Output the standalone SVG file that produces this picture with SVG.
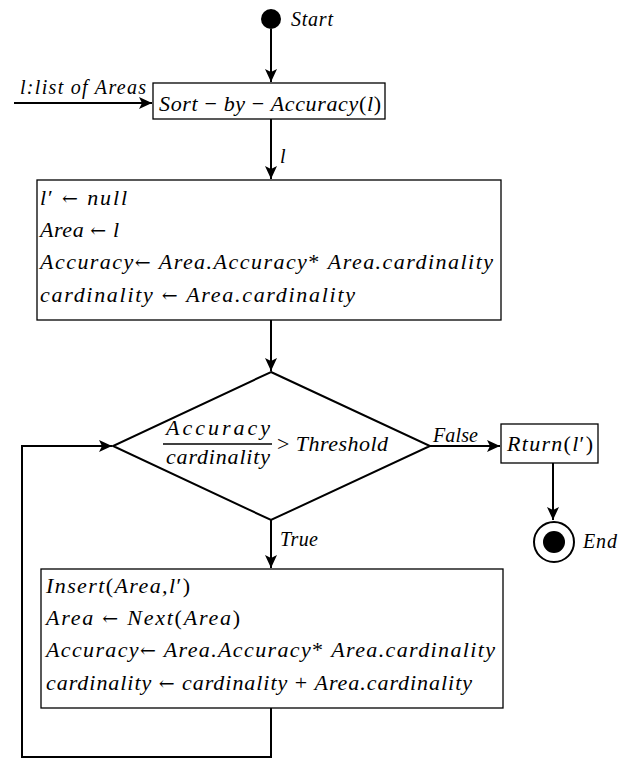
<svg xmlns="http://www.w3.org/2000/svg" width="634" height="760" viewBox="0 0 634 760">
<style>
.t{font-family:"Liberation Serif","Times New Roman",serif;font-style:italic;font-size:22px;fill:#000}
.s{font-family:"Liberation Serif","Times New Roman",serif;font-style:italic;font-size:20px;fill:#000}
.u{font-style:normal}
.a{font-style:normal;font-family:"DejaVu Serif",serif;font-size:19px}
.box{fill:#fff;stroke:#000;stroke-width:1.3}
.ln{fill:none;stroke:#000;stroke-width:2}
</style>
<defs>
<marker id="ah" markerUnits="userSpaceOnUse" markerWidth="14" markerHeight="12" refX="13" refY="6" orient="auto">
<path d="M0,0 L13,6 L0,12 L3,6 Z" fill="#000"/>
</marker>
</defs>
<rect width="634" height="760" fill="#fff"/>
<g id="connectors">
<line class="ln" x1="271" y1="29" x2="271" y2="82" marker-end="url(#ah)"/>
<line class="ln" x1="14" y1="103" x2="152" y2="103" marker-end="url(#ah)"/>
<line class="ln" x1="271" y1="119" x2="271" y2="179" marker-end="url(#ah)"/>
<line class="ln" x1="271" y1="320" x2="271" y2="371" marker-end="url(#ah)"/>
<line class="ln" x1="430" y1="446" x2="500" y2="446" marker-end="url(#ah)"/>
<line class="ln" x1="271" y1="520" x2="271" y2="568" marker-end="url(#ah)"/>
<line class="ln" x1="553" y1="463" x2="553" y2="520" marker-end="url(#ah)"/>
<path class="ln" d="M271,708 V757 H22 V446 H112" marker-end="url(#ah)"/>
<text class="s" x="20" y="94" textLength="126" lengthAdjust="spacing">l:list of Areas</text>
<text class="s" x="280" y="163">l</text>
<text class="s" x="433" y="442" textLength="45" lengthAdjust="spacing">False</text>
<text class="s" x="280" y="546" textLength="38" lengthAdjust="spacing">True</text>
</g>
<g id="start">
<circle cx="271" cy="19" r="10" fill="#000"/>
<text class="s" x="291" y="26" textLength="42" lengthAdjust="spacing">Start</text>
</g>
<g id="sort">
<rect class="box" x="153" y="83" width="232" height="36"/>
<text class="t" x="159" y="111" textLength="222" lengthAdjust="spacing">Sort <tspan class="u">−</tspan> by <tspan class="u">−</tspan> Accuracy<tspan class="u">(</tspan>l<tspan class="u">)</tspan></text>
</g>
<g id="init">
<rect class="box" x="37" y="180" width="464" height="140"/>
<text class="t" x="40" y="205" textLength="87" lengthAdjust="spacing">l<tspan class="u">′ </tspan><tspan class="a">←</tspan> null</text>
<text class="t" x="40" y="237" textLength="79" lengthAdjust="spacing">Area <tspan class="a">←</tspan> l</text>
<text class="t" x="40" y="269" textLength="453" lengthAdjust="spacing">Accuracy<tspan class="a">←</tspan> Area.Accuracy<tspan class="u">* </tspan>Area.cardinality</text>
<text class="t" x="40" y="302" textLength="315" lengthAdjust="spacing">cardinality <tspan class="a">←</tspan> Area.cardinality</text>
</g>
<g id="decision">
<polygon class="box" points="271,372 430,446 271,520 113,446" style="stroke-width:2"/>
<text class="t" x="218" y="435" text-anchor="middle" textLength="104" lengthAdjust="spacing">Accuracy</text>
<line x1="163" y1="444" x2="272" y2="444" stroke="#000" stroke-width="1.3"/>
<text class="t" x="218" y="464" text-anchor="middle" textLength="104" lengthAdjust="spacing">cardinality</text>
<text class="t" x="277" y="451" textLength="111" lengthAdjust="spacing"><tspan class="u">&gt;</tspan> Threshold</text>
</g>
<g id="return">
<rect class="box" x="501" y="424" width="97" height="39"/>
<text class="t" x="507" y="451" textLength="86" lengthAdjust="spacing">Rturn<tspan class="u">(</tspan>l<tspan class="u">′)</tspan></text>
</g>
<g id="end">
<circle cx="554" cy="542" r="20" fill="#fff" stroke="#000" stroke-width="2"/>
<circle cx="554" cy="542" r="11" fill="#000"/>
<text class="s" x="583" y="548" textLength="34" lengthAdjust="spacing">End</text>
</g>
<g id="loop">
<rect class="box" x="41" y="569" width="462" height="139"/>
<text class="t" x="46" y="593" textLength="144" lengthAdjust="spacing">Insert<tspan class="u">(</tspan>Area,l<tspan class="u">′)</tspan></text>
<text class="t" x="46" y="625" textLength="194" lengthAdjust="spacing">Area <tspan class="a">←</tspan> Next<tspan class="u">(</tspan>Area<tspan class="u">)</tspan></text>
<text class="t" x="46" y="657" textLength="449" lengthAdjust="spacing">Accuracy<tspan class="a">←</tspan> Area.Accuracy<tspan class="u">* </tspan>Area.cardinality</text>
<text class="t" x="46" y="690" textLength="426" lengthAdjust="spacing">cardinality <tspan class="a">←</tspan> cardinality<tspan class="u"> + </tspan>Area.cardinality</text>
</g>
</svg>
